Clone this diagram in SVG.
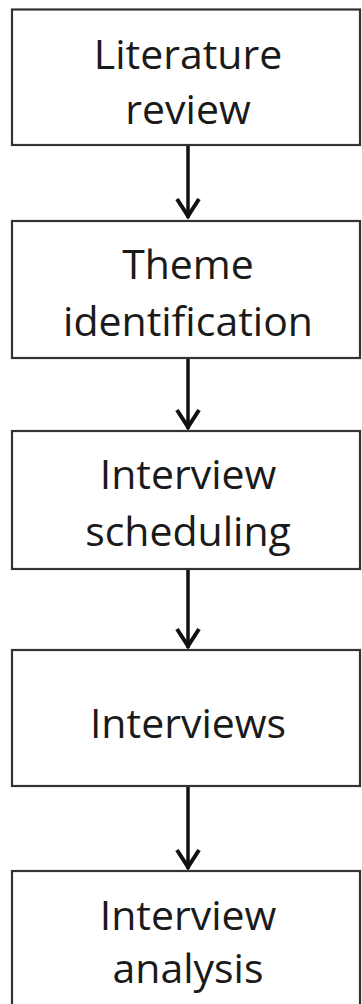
<svg xmlns="http://www.w3.org/2000/svg" width="362" height="1004" viewBox="0 0 362 1004">
<style>
.box{fill:#fff;stroke:#333;stroke-width:2.2}
.lbl{font-family:"Open Sans","Noto Sans",sans-serif;font-size:41px;fill:#1a1a1a;text-anchor:middle}
.conn{stroke:#111;stroke-width:3.5;fill:none}
.head{stroke:#111;stroke-width:4;fill:none;stroke-linejoin:miter;stroke-linecap:butt}
</style>
<rect width="362" height="1004" fill="#fff"/>
<g id="connectors">
<line class="conn" x1="188" y1="146" x2="188" y2="218"/>
<polyline class="head" points="177,199 188,216 199,199"/>
<line class="conn" x1="188" y1="358" x2="188" y2="429"/>
<polyline class="head" points="177,410 188,427 199,410"/>
<line class="conn" x1="188" y1="569" x2="188" y2="648"/>
<polyline class="head" points="177,629 188,646 199,629"/>
<line class="conn" x1="188" y1="786" x2="188" y2="869"/>
<polyline class="head" points="177,850 188,867 199,850"/>
</g>
<g id="literature-review">
<rect class="box" x="12" y="9.5" width="348" height="135.5"/>
<text class="lbl" x="188" y="69">Literature</text>
<text class="lbl" x="188" y="124">review</text>
</g>
<g id="theme-identification">
<rect class="box" x="12" y="221" width="348" height="137"/>
<text class="lbl" x="188" y="279">Theme</text>
<text class="lbl" x="188" y="336">identification</text>
</g>
<g id="interview-scheduling">
<rect class="box" x="12" y="431" width="348" height="138"/>
<text class="lbl" x="188" y="489">Interview</text>
<text class="lbl" x="188" y="546">scheduling</text>
</g>
<g id="interviews">
<rect class="box" x="12" y="650" width="348" height="136"/>
<text class="lbl" x="188" y="738">Interviews</text>
</g>
<g id="interview-analysis">
<rect class="box" x="12" y="871" width="348" height="150"/>
<text class="lbl" x="188" y="930">Interview</text>
<text class="lbl" x="188" y="983">analysis</text>
</g>
</svg>
